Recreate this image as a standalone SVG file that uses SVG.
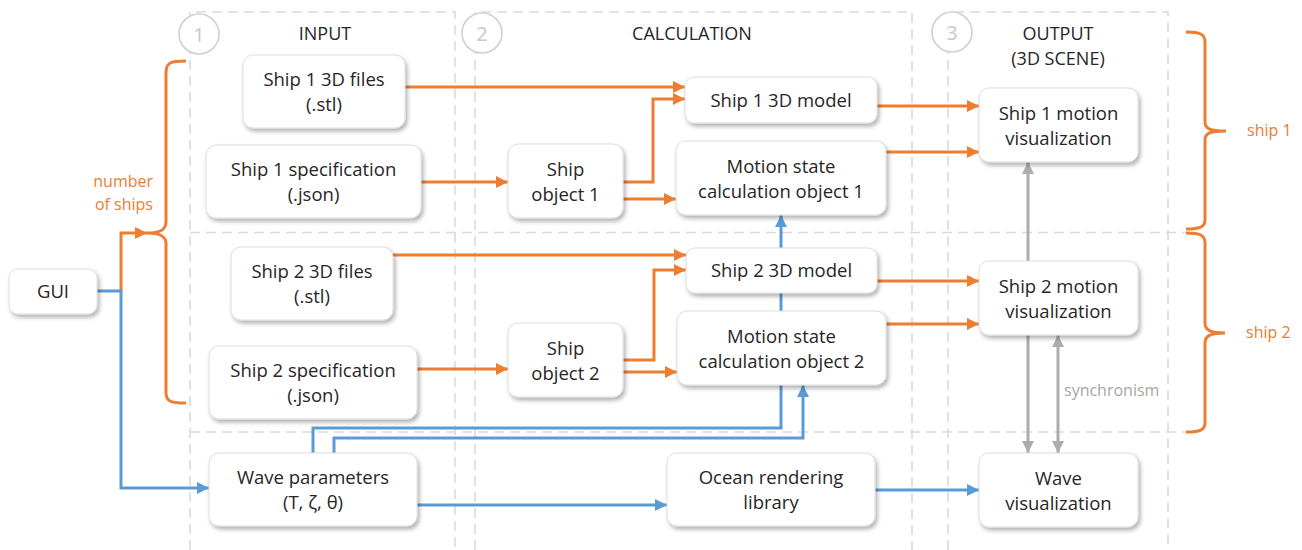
<svg xmlns="http://www.w3.org/2000/svg" width="1302" height="550" viewBox="0 0 1302 550">
<defs>
<filter id="sh" x="-10%" y="-10%" width="125%" height="135%">
<feDropShadow dx="2" dy="3" stdDeviation="2" flood-color="#000" flood-opacity="0.3"/>
</filter>
<marker id="ao" markerUnits="userSpaceOnUse" markerWidth="12" markerHeight="12" refX="12" refY="6" orient="auto"><path d="M0,0 L12,6 L0,12 z" fill="#ED7D31"/></marker>
<marker id="ab" markerUnits="userSpaceOnUse" markerWidth="12" markerHeight="12" refX="12" refY="6" orient="auto"><path d="M0,0 L12,6 L0,12 z" fill="#5B9BD5"/></marker>
<marker id="ag" markerUnits="userSpaceOnUse" markerWidth="12" markerHeight="12" refX="12" refY="6" orient="auto-start-reverse"><path d="M0,0 L12,6 L0,12 z" fill="#ADADAD"/></marker>
</defs>
<style>
.grid{fill:none;stroke:#DADADA;stroke-width:1.6;stroke-dasharray:10 6}
.circ{fill:#fff;stroke:#D0D0D0;stroke-width:1.6}
.num{font-family:"Open Sans",sans-serif;font-size:20px;fill:#C8C8C8;text-anchor:middle}
.hd{font-family:"Open Sans",sans-serif;font-size:18px;fill:#262626;text-anchor:middle}
.box{fill:#fff;stroke:#DDDDDD;stroke-width:1}
.t{font-family:"Open Sans",sans-serif;font-size:18.5px;fill:#262626;text-anchor:middle}
.or{fill:none;stroke:#ED7D31;stroke-width:3}
.bl{fill:none;stroke:#5B9BD5;stroke-width:3}
.gr{fill:none;stroke:#ADADAD;stroke-width:3}
.lo{font-family:"Open Sans",sans-serif;font-size:16px;fill:#ED7D31}
.lg{font-family:"Open Sans",sans-serif;font-size:16px;fill:#A6A6A6}
</style>
<rect width="1302" height="550" fill="#fff"/>
<g id="grid">
<path class="grid" d="M190,550 V12 H455 V550"/>
<path class="grid" d="M475,550 V12 H912 V550"/>
<path class="grid" d="M948,550 V12 H1168 V550"/>
<path class="grid" d="M190,232.5 H1186"/>
<path class="grid" d="M190,432 H1186"/>
<circle class="circ" cx="199" cy="34" r="20"/>
<text class="num" x="199" y="42">1</text>
<circle class="circ" cx="482" cy="33" r="20"/>
<text class="num" x="482" y="41">2</text>
<circle class="circ" cx="952" cy="32" r="20"/>
<text class="num" x="952" y="40">3</text>
<text class="hd" x="325" y="40">INPUT</text>
<text class="hd" x="692" y="40">CALCULATION</text>
<text class="hd" x="1058" y="40">OUTPUT</text>
<text class="hd" x="1058" y="65">(3D SCENE)</text>
</g>
<g id="braces">
<path class="or" d="M186,61 C172,61 166,62 166,72 V222 C166,230 160,233 147,233 C160,233 166,236 166,244 V393 C166,402 172,403 186,403"/>
<path class="or" d="M1186,32 C1200,32 1205,34 1205,42 V122 C1205,129 1210,131 1226,131 C1210,131 1205,133 1205,140 V220 C1205,227 1200,229 1186,229"/>
<path class="or" d="M1186,233 C1200,233 1205,235 1205,243 V323 C1205,330 1210,333 1225,333 C1210,333 1205,336 1205,343 V423 C1205,430 1200,432 1186,432"/>
<text class="lo" x="153" y="187" text-anchor="end">number</text>
<text class="lo" x="153" y="210" text-anchor="end">of ships</text>
<text class="lo" x="1247" y="136">ship 1</text>
<text class="lo" x="1246" y="338">ship 2</text>
</g>
<g id="connectors">
<path class="or" marker-end="url(#ao)" d="M405,87 H685"/>
<path class="or" marker-end="url(#ao)" d="M421,182 H508"/>
<path class="or" marker-end="url(#ao)" d="M623,182 H653 V99 H685"/>
<path class="or" marker-end="url(#ao)" d="M623,199 H676"/>
<path class="or" marker-end="url(#ao)" d="M877,106 H979"/>
<path class="or" marker-end="url(#ao)" d="M886,152 H979"/>
<path class="or" marker-end="url(#ao)" d="M393,255 H686"/>
<path class="or" marker-end="url(#ao)" d="M417,369 H508"/>
<path class="or" marker-end="url(#ao)" d="M623,360 H654 V270 H686"/>
<path class="or" marker-end="url(#ao)" d="M623,372 H677"/>
<path class="or" marker-end="url(#ao)" d="M877,281 H979"/>
<path class="or" marker-end="url(#ao)" d="M886,324 H979"/>
<path class="or" marker-end="url(#ao)" d="M121,291 V233 H147"/>
<path class="bl" marker-end="url(#ab)" d="M97,291 H121 V488 H209"/>
<path class="bl" marker-end="url(#ab)" d="M417,505 H667"/>
<path class="bl" marker-end="url(#ab)" d="M875,490 H979"/>
<path class="bl" marker-end="url(#ab)" d="M313,453 V428 H781 V215"/>
<path class="bl" marker-end="url(#ab)" d="M334,453 V438 H803 V385"/>
<path class="gr" marker-start="url(#ag)" marker-end="url(#ag)" d="M1028,453 V162"/>
<path class="gr" marker-start="url(#ag)" marker-end="url(#ag)" d="M1058,335 V453"/>
<text class="lg" x="1064" y="396">synchronism</text>
</g>
<g id="gui"><rect class="box" filter="url(#sh)" x="9" y="269" width="88" height="45" rx="9"/><text class="t" x="53" y="298">GUI</text></g>
<g id="ship1-files"><rect class="box" filter="url(#sh)" x="243" y="55" width="162" height="73" rx="10"/><text class="t" x="324" y="86">Ship 1 3D files</text><text class="t" x="324" y="111">(.stl)</text></g>
<g id="ship1-spec"><rect class="box" filter="url(#sh)" x="206" y="145" width="215" height="73" rx="10"/><text class="t" x="313.5" y="176">Ship 1 specification</text><text class="t" x="313.5" y="201">(.json)</text></g>
<g id="ship2-files"><rect class="box" filter="url(#sh)" x="231" y="247" width="162" height="73" rx="10"/><text class="t" x="312" y="278">Ship 2 3D files</text><text class="t" x="312" y="303">(.stl)</text></g>
<g id="ship2-spec"><rect class="box" filter="url(#sh)" x="209" y="346" width="208" height="73" rx="10"/><text class="t" x="313" y="377">Ship 2 specification</text><text class="t" x="313" y="402">(.json)</text></g>
<g id="wave-params"><rect class="box" filter="url(#sh)" x="209" y="453" width="208" height="73" rx="10"/><text class="t" x="313" y="484">Wave parameters</text><text class="t" x="313" y="509">(T, ζ, θ)</text></g>
<g id="ship1-model"><rect class="box" filter="url(#sh)" x="685" y="77" width="192" height="46" rx="9"/><text class="t" x="781" y="106.5">Ship 1 3D model</text></g>
<g id="ship-object1"><rect class="box" filter="url(#sh)" x="508" y="144" width="115" height="74" rx="10"/><text class="t" x="565.5" y="175.5">Ship</text><text class="t" x="565.5" y="200.5">object 1</text></g>
<g id="motion1"><rect class="box" filter="url(#sh)" x="676" y="141" width="210" height="74" rx="10"/><text class="t" x="781" y="172.5">Motion state</text><text class="t" x="781" y="197.5">calculation object 1</text></g>
<g id="ship2-model"><rect class="box" filter="url(#sh)" x="686" y="248" width="191" height="45" rx="9"/><text class="t" x="781.5" y="277">Ship 2 3D model</text></g>
<g id="ship-object2"><rect class="box" filter="url(#sh)" x="508" y="323" width="115" height="74" rx="10"/><text class="t" x="565.5" y="354.5">Ship</text><text class="t" x="565.5" y="379.5">object 2</text></g>
<g id="motion2"><rect class="box" filter="url(#sh)" x="677" y="311" width="209" height="74" rx="10"/><text class="t" x="781.5" y="342.5">Motion state</text><text class="t" x="781.5" y="367.5">calculation object 2</text></g>
<g id="ocean"><rect class="box" filter="url(#sh)" x="667" y="453" width="208" height="73" rx="10"/><text class="t" x="771" y="484">Ocean rendering</text><text class="t" x="771" y="509">library</text></g>
<g id="ship1-vis"><rect class="box" filter="url(#sh)" x="979" y="88" width="159" height="74" rx="10"/><text class="t" x="1058.5" y="119.5">Ship 1 motion</text><text class="t" x="1058.5" y="144.5">visualization</text></g>
<g id="ship2-vis"><rect class="box" filter="url(#sh)" x="979" y="261" width="159" height="74" rx="10"/><text class="t" x="1058.5" y="292.5">Ship 2 motion</text><text class="t" x="1058.5" y="317.5">visualization</text></g>
<g id="wave-vis"><rect class="box" filter="url(#sh)" x="979" y="453" width="159" height="74" rx="10"/><text class="t" x="1058.5" y="484.5">Wave</text><text class="t" x="1058.5" y="509.5">visualization</text></g>
</svg>
